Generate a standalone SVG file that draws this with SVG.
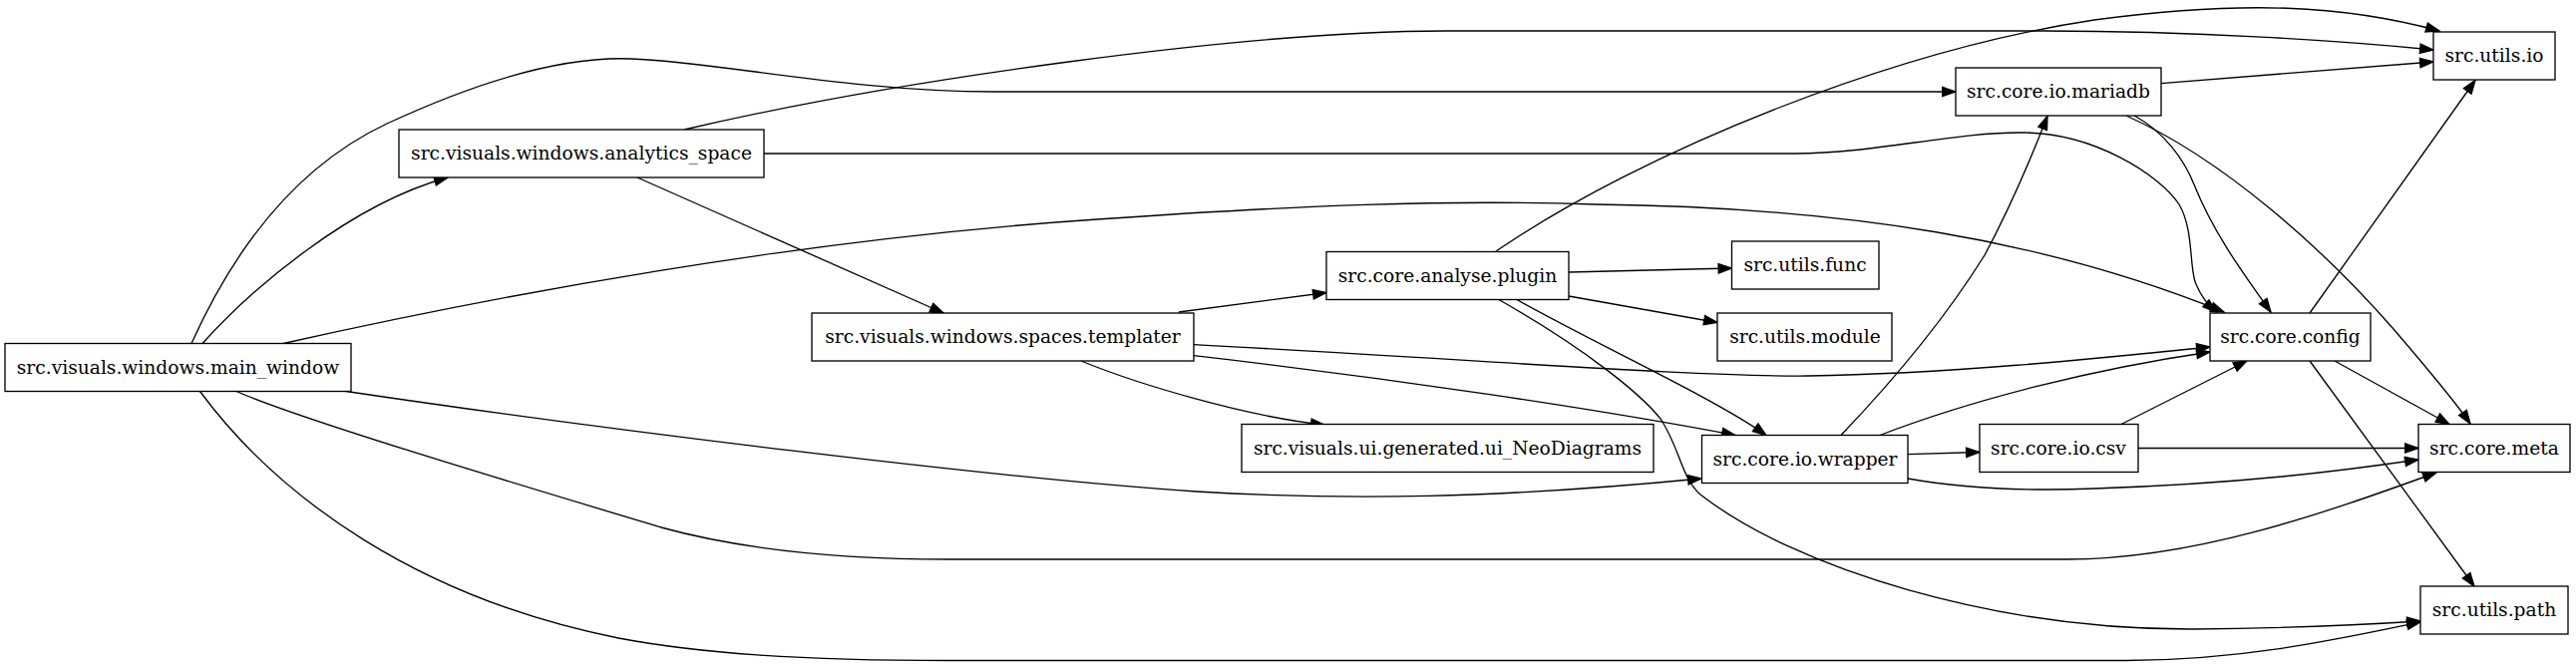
<svg xmlns="http://www.w3.org/2000/svg" width="2583" height="669" viewBox="0 0 2583 669">
<style>
.n rect{fill:#fff;stroke:#000;stroke-width:1.33}
.n text{font-family:"DejaVu Serif","Liberation Serif",serif;font-size:18.67px;text-anchor:middle;fill:#000}
#edges path{fill:none;stroke:#000;stroke-width:1.33;marker-end:url(#ah)}
</style>
<defs>
<marker id="ah" markerUnits="userSpaceOnUse" markerWidth="14" markerHeight="10" refX="13.33" refY="4.67" orient="auto" overflow="visible">
<path d="M0,0 L13.33,4.67 L0,9.33 z" fill="#000" stroke="#000" stroke-width="1.33"/>
</marker>
</defs>
<rect width="2583" height="669" fill="#fff"/>
<g id="edges">
<path d="M203,344.5 C250,292 350,205 449,178"/>
<path d="M192,344.5 C230,260 290,170 388,124 C470,86 560,56 633,59 C720,62 850,92 998,92 L1961,92"/>
<path d="M686,130 C900,80 1250,31 1450,31 L2050,31 C2200,31 2350,41 2440,50"/>
<path d="M766,154 L1800,154 C1880,154 1960,132 2030,133 C2100,134 2165,175 2185,205 C2200,230 2195,270 2202,285 C2207,297 2214,306 2222,313"/>
<path d="M639,178 L946,314"/>
<path d="M284,344.5 C500,296 800,240 1100,220 C1300,206 1450,200 1600,205 C1850,208 2050,240 2230,313"/>
<path d="M347,392.5 C600,430 1000,480 1200,493 C1350,502 1500,500 1706,480"/>
<path d="M237,392.5 C300,420 500,480 663,529 C750,553 850,561 952,561 L2072,561 C2200,561 2330,515 2443,474"/>
<path d="M200.5,392.5 C280,500 420,600 620,640 C700,655 800,662.5 952,662.5 L2131,662.5 C2250,662.5 2350,640 2427,624"/>
<path d="M1182,313 L1330,293.5"/>
<path d="M1084,362 C1140,385 1250,418 1328,426"/>
<path d="M1197,345.6 C1500,362 1700,378 1813,377 C1950,375 2100,360 2216,348"/>
<path d="M1197,356.7 C1400,380 1600,410 1740,436.5"/>
<path d="M1500,252 C1650,150 1900,50 2100,20 C2250,0 2350,5 2446,31"/>
<path d="M1573,273 L1736.5,269"/>
<path d="M1573,297 L1722,323.5"/>
<path d="M1520,300 C1600,345 1720,400 1771,436.5"/>
<path d="M1502,300 C1590,350 1645,395 1665,420 C1685,450 1685,478 1705,496 C1800,570 2000,632 2200,631 C2300,630 2380,626 2427,623"/>
<path d="M1846,436.5 C1900,380 1950,320 1990,256 C2020,200 2040,150 2053,116.5"/>
<path d="M1885,436.5 C1980,400 2100,370 2216,353"/>
<path d="M1913,455.6 L1985,453.5"/>
<path d="M1913,480 C1980,492 2050,492 2100,490 C2250,485 2350,472 2425,461"/>
<path d="M2127,425.5 L2253,362"/>
<path d="M2144,449.5 L2425,449.5"/>
<path d="M2316,314 L2482,80.5"/>
<path d="M2341,362 L2456,425.5"/>
<path d="M2316,362 L2481,588"/>
<path d="M2167,83.6 L2440,62"/>
<path d="M2140,116 C2170,132 2190,160 2200,185 C2220,235 2250,275 2277,313"/>
<path d="M2132,116 C2230,160 2330,250 2400,330 C2430,365 2460,400 2477,425"/>
</g>
<g id="main_window" class="n"><rect x="5" y="344.5" width="347" height="48"/><text x="178.5" y="374.5">src.visuals.windows.main_window</text></g>
<g id="analytics_space" class="n"><rect x="400" y="130" width="366" height="48"/><text x="583" y="160">src.visuals.windows.analytics_space</text></g>
<g id="templater" class="n"><rect x="814" y="314" width="383" height="48"/><text x="1005.5" y="344">src.visuals.windows.spaces.templater</text></g>
<g id="plugin" class="n"><rect x="1330" y="252.5" width="243" height="48"/><text x="1451.5" y="282.5">src.core.analyse.plugin</text></g>
<g id="ui_NeoDiagrams" class="n"><rect x="1245" y="425.5" width="413" height="48"/><text x="1451.5" y="455.5">src.visuals.ui.generated.ui_NeoDiagrams</text></g>
<g id="utils_func" class="n"><rect x="1736.5" y="242" width="147.5" height="48"/><text x="1810" y="272">src.utils.func</text></g>
<g id="utils_module" class="n"><rect x="1722" y="314" width="175" height="48"/><text x="1810" y="344">src.utils.module</text></g>
<g id="wrapper" class="n"><rect x="1706.5" y="436.5" width="206.5" height="48"/><text x="1810" y="466.5">src.core.io.wrapper</text></g>
<g id="mariadb" class="n"><rect x="1961" y="68" width="206" height="48"/><text x="2064" y="98">src.core.io.mariadb</text></g>
<g id="csv" class="n"><rect x="1985" y="425.5" width="159" height="48"/><text x="2064" y="455.5">src.core.io.csv</text></g>
<g id="config" class="n"><rect x="2216" y="314" width="161" height="48"/><text x="2296.5" y="344">src.core.config</text></g>
<g id="utils_io" class="n"><rect x="2440" y="32" width="122" height="48"/><text x="2501" y="62">src.utils.io</text></g>
<g id="meta" class="n"><rect x="2425" y="425.5" width="152" height="48"/><text x="2501" y="455.5">src.core.meta</text></g>
<g id="path" class="n"><rect x="2427" y="588" width="148" height="48"/><text x="2501" y="618">src.utils.path</text></g>
</svg>
